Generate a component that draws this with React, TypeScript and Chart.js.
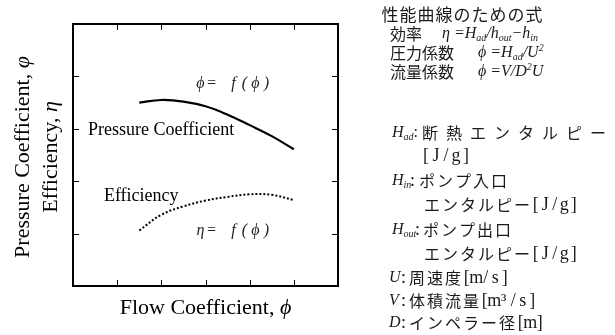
import React, { useEffect, useRef } from 'react';
import { Chart, registerables } from 'chart.js';

Chart.register(...registerables);

// Flow coefficient (x) and the two performance curves read along it
const FLOW = [1.5, 2, 2.5, 3, 3.5, 4, 4.5, 5];
const PRESSURE = [3.5, 3.55, 3.52, 3.43, 3.27, 3.07, 2.86, 2.61];
const EFFICIENCY = [1.06, 1.36, 1.52, 1.63, 1.7, 1.75, 1.74, 1.64];

// Unlabelled tick positions on the frame
const X_TICKS = [1, 2, 3, 4, 5];
const Y_TICKS = [1, 2, 3, 4];

// Axis titles: [plain text, italic symbol]
const X_TITLE: [string, string] = ['Flow Coefficient, ', 'ϕ'];
const Y_TITLE: [string, string][] = [
  ['Pressure Coefficient, ', 'φ'],
  ['Efficiency, ', 'η'],
];
const CURVE_LABELS = ['Pressure Coefficient', 'Efficiency'];
const FORMULA_LABELS = ['ϕ= f(ϕ)', 'η= f(ϕ)'];

const SERIF = '"Liberation Serif", "DejaVu Serif", serif';
const CJK = '"Noto Sans CJK JP", sans-serif';

type Piece = { t: string; size: number; dy?: number; italic?: boolean; family?: string };

// Draw characters on a fixed pitch (half/full-width cell layout)
function cells(ctx: CanvasRenderingContext2D, text: string, x: number, y: number, pitch: number, font: string) {
  ctx.font = font;
  ctx.textAlign = 'center';
  const chars = Array.from(text);
  chars.forEach((ch, i) => ctx.fillText(ch, x + pitch * (i + 0.5), y));
  ctx.textAlign = 'left';
  return x + pitch * chars.length;
}

// Draw a run of text pieces with sub/superscripts
function pieces(ctx: CanvasRenderingContext2D, x: number, y: number, list: Piece[]) {
  let cx = x;
  ctx.textAlign = 'left';
  for (const p of list) {
    ctx.font = `${p.italic === false ? '' : 'italic '}${p.size}px ${p.family ?? SERIF}`;
    ctx.fillText(p.t, cx, y + (p.dy ?? 0));
    cx += ctx.measureText(p.t).width;
  }
  return cx;
}

// Centred title: upright words followed by an italic symbol
function title(ctx: CanvasRenderingContext2D, parts: [string, string], cx: number, cy: number, size: number) {
  const up = `${size}px ${SERIF}`;
  const it = `italic ${size}px ${SERIF}`;
  ctx.font = up;
  const w1 = ctx.measureText(parts[0]).width;
  ctx.font = it;
  const w2 = ctx.measureText(parts[1]).width;
  const x0 = cx - (w1 + w2) / 2;
  ctx.textAlign = 'left';
  ctx.font = up;
  ctx.fillText(parts[0], x0, cy);
  ctx.font = it;
  ctx.fillText(parts[1], x0 + w1, cy);
}

const sub = (t: string): Piece => ({ t, size: 10, dy: 4 });
const sup = (t: string): Piece => ({ t, size: 10, dy: -5 });
const m = (t: string): Piece => ({ t, size: 16 });

const decor = {
  id: 'decor',
  afterDatasetsDraw(chart: any) {
    const { ctx, chartArea: a, scales } = chart;
    const xs = scales.x;
    const ys = scales.y;
    ctx.save();
    ctx.strokeStyle = '#000';
    ctx.fillStyle = '#000';

    // inward ticks on all four sides
    ctx.lineWidth = 1;
    ctx.beginPath();
    for (const v of X_TICKS) {
      const px = Math.round(xs.getPixelForValue(v)) + 0.5;
      ctx.moveTo(px, a.bottom);
      ctx.lineTo(px, a.bottom - 6);
      ctx.moveTo(px, a.top);
      ctx.lineTo(px, a.top + 6);
    }
    for (const v of Y_TICKS) {
      const py = Math.round(ys.getPixelForValue(v)) + 0.5;
      ctx.moveTo(a.left, py);
      ctx.lineTo(a.left + 6, py);
      ctx.moveTo(a.right, py);
      ctx.lineTo(a.right - 6, py);
    }
    ctx.stroke();

    // frame
    ctx.lineWidth = 2;
    ctx.strokeRect(a.left, a.top, a.right - a.left, a.bottom - a.top);

    // axis titles
    ctx.textBaseline = 'middle';
    title(ctx, X_TITLE, (a.left + a.right) / 2, 308, 22);
    ctx.save();
    ctx.translate(23, 157);
    ctx.rotate(-Math.PI / 2);
    title(ctx, Y_TITLE[0], 0, 0, 22);
    ctx.restore();
    ctx.save();
    ctx.translate(51, 157);
    ctx.rotate(-Math.PI / 2);
    title(ctx, Y_TITLE[1], 0, 0, 22);
    ctx.restore();

    // curve names
    ctx.textAlign = 'left';
    ctx.font = `18px ${SERIF}`;
    ctx.fillText(CURVE_LABELS[0], xs.getPixelForValue(0.34), ys.getPixelForValue(2.98));
    ctx.fillText(CURVE_LABELS[1], xs.getPixelForValue(0.7), ys.getPixelForValue(1.72));

    // function labels
    ctx.fillStyle = '#222';
    cells(ctx, FORMULA_LABELS[0], xs.getPixelForValue(2.76), ys.getPixelForValue(3.86), 11, `italic 16px ${SERIF}`);
    cells(ctx, FORMULA_LABELS[1], xs.getPixelForValue(2.76), ys.getPixelForValue(1.05), 11, `italic 16px ${SERIF}`);

    // side notes: formulas and symbol definitions
    ctx.fillStyle = '#1a1a1a';
    cells(ctx, '性能曲線のための式', 381, 15, 18, `17px ${CJK}`);
    const head = `16px ${CJK}`;
    cells(ctx, '効率', 390, 34, 16, head);
    pieces(ctx, 442, 34, [m('η =H'), sub('ad'), m('/h'), sub('out'), m('−h'), sub('in')]);
    cells(ctx, '圧力係数', 390, 53, 16, head);
    pieces(ctx, 478, 53, [m('ϕ =H'), sub('ad'), m('/U'), sup('2')]);
    cells(ctx, '流量係数', 390, 72, 16, head);
    pieces(ctx, 478, 72, [m('ϕ =V/D'), sup('2'), m('U')]);

    const body = `16px ${CJK}`;
    const half = `18px ${SERIF}`;
    pieces(ctx, 392, 133, [m('H'), sub('ad'), { t: ':', size: 16, italic: false }]);
    cells(ctx, '断熱エンタルピー', 418, 133, 24, body);
    cells(ctx, '[J/g]', 421, 156, 10, half);

    pieces(ctx, 392, 181, [m('H'), sub('in')]);
    ctx.font = half;
    ctx.fillText(':', 410, 181);
    cells(ctx, 'ポンプ入口', 418, 181, 18, body);
    let e = cells(ctx, 'エンタルピー', 423, 205, 18, body);
    cells(ctx, '[J/g]', e, 205, 9.5, half);

    pieces(ctx, 392, 230, [m('H'), sub('out')]);
    ctx.font = half;
    ctx.fillText(':', 415, 230);
    cells(ctx, 'ポンプ出口', 422, 230, 18, body);
    e = cells(ctx, 'エンタルピー', 423, 254, 18, body);
    cells(ctx, '[J/g]', e, 254, 9.5, half);

    const defs: [string, string, string, number][] = [
      ['U', '周速度', '[m/s]', 278],
      ['V', '体積流量', '[m³/s]', 301],
      ['D', 'インペラー径', '[m]', 323],
    ];
    for (const [sym, name, unit, y] of defs) {
      pieces(ctx, 389, y, [m(sym)]);
      ctx.font = half;
      ctx.fillText(':', 401, y);
      const end = cells(ctx, name, 408, y, 18, body);
      cells(ctx, unit, end, y, 9.5, half);
    }

    ctx.restore();
  },
};

export default function App() {
  const ref = useRef<HTMLCanvasElement | null>(null);

  useEffect(() => {
    if (!ref.current) return;
    const chart = new Chart(ref.current, {
      type: 'line',
      data: {
        datasets: [
          {
            label: CURVE_LABELS[0],
            data: FLOW.map((x, i) => ({ x, y: PRESSURE[i] })),
            borderColor: '#000',
            borderWidth: 2.2,
            pointRadius: 0,
            tension: 0.4,
            fill: false,
          },
          {
            label: CURVE_LABELS[1],
            data: FLOW.map((x, i) => ({ x, y: EFFICIENCY[i] })),
            borderColor: '#000',
            borderWidth: 2,
            borderDash: [2, 2],
            pointRadius: 0,
            tension: 0.4,
            fill: false,
          },
        ],
      },
      options: {
        animation: false,
        responsive: false,
        devicePixelRatio: 1,
        layout: { padding: { left: 73, top: 24, right: 277, bottom: 49 } },
        scales: {
          x: { type: 'linear', min: 0, max: 6, display: false },
          y: { type: 'linear', min: 0, max: 5, display: false },
        },
        plugins: { legend: { display: false }, tooltip: { enabled: false } },
      },
      plugins: [decor],
    });
    return () => chart.destroy();
  }, []);

  return (
    <div style={{ position: 'absolute', left: 0, top: 0, width: 615, height: 335, background: '#fff' }}>
      <canvas ref={ref} width={615} height={335} />
    </div>
  );
}
